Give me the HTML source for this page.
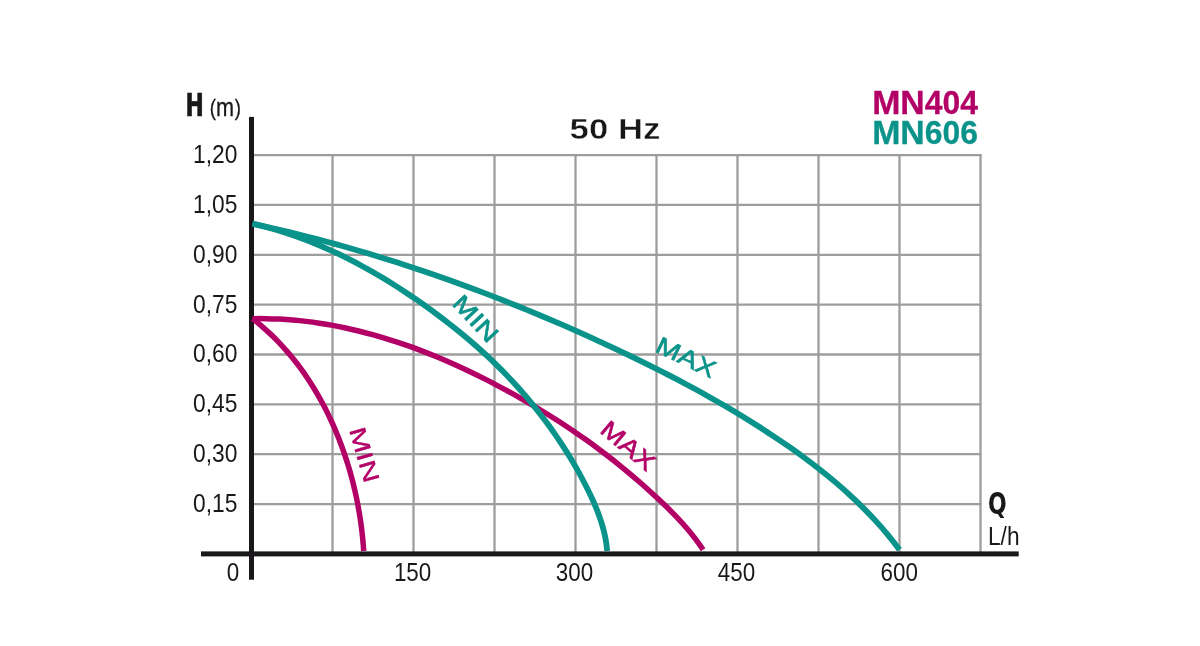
<!DOCTYPE html>
<html lang="en"><head><meta charset="utf-8"><title>MN404 / MN606 performance curves</title>
<style>html,body{margin:0;padding:0;background:#fff}body{width:1200px;height:646px;overflow:hidden}svg{display:block}text{font-family:"Liberation Sans",sans-serif}</style></head><body>
<svg width="1200" height="646" viewBox="0 0 1200 646">
<rect width="1200" height="646" fill="#fff"/>
<g stroke="#9d9d9c" stroke-width="2.3" fill="none">
<line x1="251.5" y1="155.1" x2="981.5" y2="155.1"/>
<line x1="251.5" y1="204.9" x2="981.5" y2="204.9"/>
<line x1="251.5" y1="254.8" x2="981.5" y2="254.8"/>
<line x1="251.5" y1="304.6" x2="981.5" y2="304.6"/>
<line x1="251.5" y1="354.5" x2="981.5" y2="354.5"/>
<line x1="251.5" y1="404.4" x2="981.5" y2="404.4"/>
<line x1="251.5" y1="454.2" x2="981.5" y2="454.2"/>
<line x1="251.5" y1="504.1" x2="981.5" y2="504.1"/>
<line x1="332.5" y1="154.1" x2="332.5" y2="553.9"/>
<line x1="413.5" y1="154.1" x2="413.5" y2="553.9"/>
<line x1="494.5" y1="154.1" x2="494.5" y2="553.9"/>
<line x1="575.5" y1="154.1" x2="575.5" y2="553.9"/>
<line x1="656.5" y1="154.1" x2="656.5" y2="553.9"/>
<line x1="737.5" y1="154.1" x2="737.5" y2="553.9"/>
<line x1="818.5" y1="154.1" x2="818.5" y2="553.9"/>
<line x1="899.5" y1="154.1" x2="899.5" y2="553.9"/>
<line x1="980.5" y1="154.1" x2="980.5" y2="553.9"/>
</g>
<rect x="249" y="116.9" width="5" height="462.8" fill="#1a171b"/>
<rect x="201" y="551.4" width="817.7" height="5" fill="#1a171b"/>
<g fill="none" stroke-linecap="butt">
<path stroke="#b30067" stroke-width="5.5" d="M252.48,318.69C254.29,320.08 256.08,321.50 257.84,322.94C259.60,324.38 261.34,325.85 263.06,327.33C264.77,328.82 266.46,330.33 268.13,331.87C269.80,333.40 271.44,334.96 273.06,336.54C274.68,338.12 276.28,339.72 277.85,341.34C279.42,342.96 280.97,344.61 282.50,346.27C284.03,347.94 285.53,349.62 287.01,351.32C288.49,353.03 289.95,354.75 291.38,356.49C292.82,358.24 294.23,360.00 295.62,361.78C297.01,363.56 298.38,365.35 299.72,367.17C301.07,368.98 302.39,370.81 303.69,372.66C304.99,374.51 306.27,376.37 307.52,378.25C308.78,380.13 310.01,382.03 311.23,383.94C312.44,385.85 313.63,387.78 314.80,389.72C315.97,391.65 317.11,393.61 318.24,395.57C319.37,397.54 320.47,399.52 321.55,401.51C322.64,403.50 323.70,405.51 324.74,407.53C325.78,409.54 326.80,411.57 327.80,413.61C328.80,415.65 329.78,417.70 330.73,419.76C331.69,421.82 332.63,423.89 333.54,425.96C334.46,428.04 335.36,430.13 336.23,432.23C337.11,434.33 337.96,436.43 338.80,438.55C339.63,440.66 340.44,442.78 341.24,444.91C342.03,447.04 342.80,449.18 343.55,451.33C344.31,453.47 345.04,455.63 345.75,457.78C346.46,459.94 347.15,462.11 347.82,464.28C348.49,466.45 349.14,468.63 349.77,470.82C350.40,473.00 351.01,475.19 351.60,477.39C352.19,479.58 352.76,481.78 353.31,483.99C353.86,486.19 354.39,488.40 354.89,490.61C355.40,492.83 355.89,495.05 356.36,497.27C356.82,499.49 357.27,501.71 357.70,503.94C358.13,506.17 358.53,508.40 358.92,510.63C359.30,512.87 359.67,515.10 360.02,517.34C360.36,519.58 360.69,521.82 361.00,524.06C361.30,526.30 361.59,528.55 361.85,530.79C362.12,533.03 362.36,535.28 362.59,537.52C362.81,539.77 363.02,542.02 363.21,544.26C363.39,546.51 363.56,548.75 363.70,551.00"/>
<path stroke="#b30067" stroke-width="5.5" d="M252.50,318.70C257.01,318.61 261.52,318.60 266.01,318.67C270.51,318.74 274.99,318.90 279.46,319.12C283.94,319.35 288.40,319.66 292.85,320.04C297.30,320.42 301.73,320.87 306.16,321.39C310.58,321.92 315.00,322.52 319.40,323.18C323.80,323.85 328.18,324.58 332.56,325.39C336.93,326.19 341.29,327.06 345.64,327.99C349.99,328.92 354.32,329.92 358.64,330.97C362.96,332.03 367.27,333.15 371.56,334.33C375.86,335.50 380.13,336.74 384.40,338.03C388.66,339.32 392.91,340.67 397.14,342.07C401.37,343.47 405.59,344.92 409.79,346.43C413.99,347.93 418.18,349.49 422.35,351.09C426.52,352.69 430.67,354.34 434.81,356.04C438.95,357.74 443.07,359.48 447.17,361.26C451.28,363.05 455.37,364.87 459.43,366.74C463.50,368.61 467.56,370.52 471.59,372.46C475.63,374.41 479.64,376.39 483.64,378.41C487.64,380.42 491.62,382.48 495.58,384.56C499.54,386.64 503.48,388.76 507.41,390.91C511.33,393.05 515.23,395.23 519.12,397.43C523.00,399.64 526.87,401.87 530.71,404.12C534.56,406.38 538.38,408.67 542.18,410.99C545.99,413.30 549.77,415.65 553.53,418.03C557.29,420.41 561.03,422.82 564.75,425.26C568.46,427.70 572.16,430.18 575.83,432.69C579.50,435.19 583.15,437.74 586.77,440.32C590.40,442.90 594.00,445.52 597.57,448.17C601.15,450.82 604.70,453.51 608.23,456.24C611.75,458.97 615.25,461.74 618.73,464.54C622.20,467.35 625.65,470.19 629.08,473.06C632.50,475.94 635.90,478.84 639.26,481.78C642.63,484.72 645.97,487.69 649.29,490.69C652.60,493.69 655.89,496.72 659.14,499.78C662.40,502.84 665.62,505.93 668.79,509.06C671.96,512.20 675.08,515.38 678.12,518.62C681.17,521.86 684.14,525.17 687.03,528.54C689.91,531.92 692.71,535.37 695.39,538.90C698.08,542.44 700.65,546.07 703.10,549.80"/>
<path stroke="#0a938a" stroke-width="5.8" d="M252.50,223.70C256.75,224.65 260.98,225.67 265.17,226.77C269.37,227.86 273.54,229.03 277.69,230.27C281.83,231.51 285.95,232.82 290.04,234.20C294.13,235.57 298.20,237.01 302.24,238.52C306.28,240.03 310.30,241.59 314.29,243.22C318.27,244.85 322.24,246.54 326.18,248.29C330.12,250.03 334.03,251.84 337.92,253.69C341.81,255.55 345.68,257.46 349.52,259.42C353.36,261.38 357.18,263.39 360.97,265.45C364.77,267.51 368.54,269.62 372.29,271.77C376.03,273.92 379.76,276.11 383.46,278.34C387.16,280.58 390.84,282.85 394.49,285.17C398.15,287.48 401.78,289.83 405.39,292.22C409.00,294.60 412.59,297.02 416.16,299.47C419.73,301.92 423.27,304.40 426.79,306.92C430.31,309.44 433.81,311.99 437.28,314.57C440.75,317.15 444.19,319.77 447.61,322.42C451.03,325.07 454.41,327.76 457.77,330.48C461.13,333.20 464.45,335.96 467.75,338.75C471.04,341.55 474.30,344.38 477.53,347.25C480.76,350.11 483.95,353.02 487.11,355.96C490.26,358.90 493.38,361.89 496.47,364.91C499.55,367.93 502.59,370.98 505.60,374.08C508.60,377.18 511.56,380.32 514.49,383.50C517.41,386.68 520.29,389.90 523.12,393.16C525.96,396.41 528.75,399.71 531.49,403.05C534.24,406.38 536.94,409.75 539.59,413.16C542.25,416.57 544.85,420.02 547.41,423.50C549.97,426.98 552.48,430.50 554.94,434.05C557.40,437.60 559.81,441.18 562.17,444.80C564.53,448.42 566.83,452.07 569.08,455.76C571.34,459.44 573.54,463.16 575.68,466.91C577.83,470.66 579.92,474.44 581.95,478.25C583.98,482.06 585.96,485.90 587.88,489.77C589.79,493.64 591.65,497.54 593.40,501.48C595.15,505.42 596.80,509.39 598.31,513.41C599.82,517.43 601.19,521.50 602.39,525.62C603.59,529.73 604.62,533.90 605.43,538.13C606.24,542.36 606.85,546.65 607.20,551.00"/>
<path stroke="#0a938a" stroke-width="5.8" d="M252.50,223.70C258.65,225.03 264.79,226.40 270.93,227.80C277.06,229.21 283.18,230.66 289.30,232.14C295.41,233.63 301.51,235.15 307.61,236.71C313.70,238.27 319.79,239.87 325.86,241.50C331.93,243.13 338.00,244.81 344.05,246.51C350.10,248.22 356.14,249.97 362.18,251.75C368.21,253.53 374.23,255.34 380.24,257.19C386.25,259.04 392.25,260.93 398.24,262.85C404.23,264.77 410.21,266.72 416.18,268.71C422.15,270.70 428.10,272.72 434.05,274.78C439.99,276.84 445.93,278.92 451.85,281.05C457.77,283.17 463.68,285.32 469.58,287.51C475.48,289.69 481.37,291.91 487.25,294.16C493.12,296.41 498.99,298.69 504.84,301.00C510.69,303.31 516.53,305.66 522.36,308.03C528.19,310.40 534.01,312.80 539.81,315.23C545.62,317.67 551.41,320.13 557.19,322.62C562.97,325.11 568.74,327.63 574.49,330.17C580.25,332.72 585.99,335.30 591.72,337.90C597.45,340.50 603.17,343.13 608.87,345.79C614.57,348.45 620.26,351.13 625.94,353.85C631.61,356.57 637.27,359.31 642.92,362.09C648.56,364.87 654.19,367.68 659.79,370.53C665.40,373.38 670.99,376.26 676.56,379.19C682.12,382.11 687.67,385.07 693.19,388.07C698.72,391.08 704.22,394.12 709.69,397.21C715.17,400.30 720.62,403.43 726.04,406.61C731.47,409.80 736.86,413.02 742.23,416.30C747.60,419.58 752.94,422.91 758.25,426.29C763.56,429.67 768.84,433.10 774.09,436.59C779.33,440.08 784.55,443.63 789.71,447.24C794.88,450.85 800.00,454.53 805.06,458.27C810.13,462.02 815.14,465.83 820.08,469.73C825.02,473.62 829.90,477.59 834.69,481.65C839.49,485.71 844.21,489.85 848.84,494.09C853.48,498.32 858.02,502.65 862.47,507.08C866.91,511.50 871.26,516.03 875.49,520.66C879.73,525.30 883.85,530.03 887.86,534.89C891.87,539.74 895.75,544.71 899.51,549.80"/>
</g>
<g fill="#1a171b" font-size="25.6" text-anchor="end" >
<text transform="translate(237.3,163.0) scale(0.89,1)">1,20</text>
<text transform="translate(237.3,212.8) scale(0.89,1)">1,05</text>
<text transform="translate(237.3,262.7) scale(0.89,1)">0,90</text>
<text transform="translate(237.3,312.5) scale(0.89,1)">0,75</text>
<text transform="translate(237.3,362.4) scale(0.89,1)">0,60</text>
<text transform="translate(237.3,412.2) scale(0.89,1)">0,45</text>
<text transform="translate(237.3,462.1) scale(0.89,1)">0,30</text>
<text transform="translate(237.3,512.0) scale(0.89,1)">0,15</text>
</g>
<g fill="#1a171b" font-size="25.6" text-anchor="middle" >
<text transform="translate(232.9,580.5) scale(0.875,1)">0</text>
<text transform="translate(412.6,580.5) scale(0.875,1)">150</text>
<text transform="translate(574.4,580.5) scale(0.875,1)">300</text>
<text transform="translate(736.4,580.5) scale(0.875,1)">450</text>
<text transform="translate(899.2,580.5) scale(0.875,1)">600</text>
</g>
<text transform="translate(185.5,115.5) scale(0.70,1)" font-size="31.3" font-weight="bold" style="font-family:'DejaVu Sans',sans-serif" fill="#1a171b" stroke="#1a171b" stroke-width="0.7">H</text>
<text transform="translate(209.7,115.9) scale(0.83,1)" font-size="26.1" fill="#1a171b" stroke="#1a171b" stroke-width="0.3"><tspan font-size="22.4" dy="-0.5">(</tspan><tspan dy="0.5">m</tspan><tspan font-size="22.4" dy="-0.5" dx="1">)</tspan></text>
<text transform="translate(988.1,514.0) scale(0.745,1)" font-size="29.5" font-weight="bold" style="font-family:'DejaVu Sans',sans-serif" fill="#1a171b">Q</text>
<text transform="translate(988.0,545) scale(0.89,1)" font-size="25.5" fill="#1a171b" >L/h</text>
<text transform="translate(615,138.8) scale(1.155,1)" font-size="30.1" font-weight="bold" text-anchor="middle" fill="#1a171b" stroke="#fff" stroke-width="0.45">50 Hz</text>
<text x="872.2" y="113.7" font-size="33.9" font-weight="bold" fill="#b30067" stroke="#b30067" stroke-width="0.3"><tspan textLength="52.6" lengthAdjust="spacingAndGlyphs">MN</tspan><tspan textLength="53.2" lengthAdjust="spacingAndGlyphs">404</tspan></text>
<text x="872.2" y="143.8" font-size="33.9" font-weight="bold" fill="#0a938a" stroke="#0a938a" stroke-width="0.3"><tspan textLength="52.6" lengthAdjust="spacingAndGlyphs">MN</tspan><tspan textLength="53.2" lengthAdjust="spacingAndGlyphs">606</tspan></text>
<text transform="translate(451.0,304.2) rotate(47.0) scale(1.245,1)" font-size="24.0" fill="#0a938a" stroke="#0a938a" stroke-width="0.60">MIN</text>
<text transform="translate(654.1,351.1) rotate(25.5) scale(1.215,1)" font-size="24.0" fill="#0a938a" stroke="#0a938a" stroke-width="0.60">MAX</text>
<text transform="translate(598.7,431.8) rotate(40.0) scale(1.205,1)" font-size="24.0" fill="#b30067" stroke="#b30067" stroke-width="0.60">MAX</text>
<text transform="translate(348.9,429.7) rotate(74.0) scale(1.350,1)" font-size="23.0" fill="#b30067" stroke="#b30067" stroke-width="0.30">MIN</text>
</svg></body></html>
